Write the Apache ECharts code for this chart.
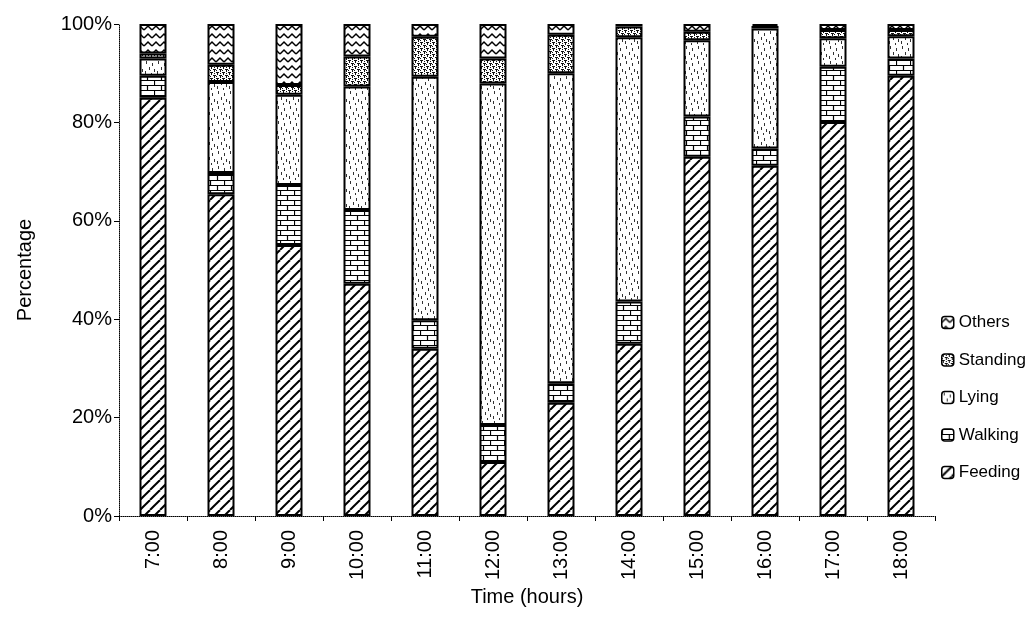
<!DOCTYPE html>
<html>
<head>
<meta charset="utf-8">
<script src="https://cdn.jsdelivr.net/npm/echarts@6/dist/echarts.min.js"></script>
<style>
  html, body { margin: 0; padding: 0; background: #fff; }
  #chart { width: 1032px; height: 635px; }
</style>
</head>
<body>
<div id="chart"></div>
<script>
// Activity budget by hour (percent of observations)
const categories = ['7:00', '8:00', '9:00', '10:00', '11:00', '12:00', '13:00', '14:00', '15:00', '16:00', '17:00', '18:00'];
const feeding  = [85, 65.4, 55.1, 47.2, 34, 11, 23, 35, 73, 71.2, 80.1, 89.5];
const walking  = [4.5, 4.3, 12.2, 15, 5.8, 7.5, 4, 8.6, 8.2, 3.5, 11.2, 3.5];
const lying    = [3.5, 18.5, 18.3, 25.1, 49.5, 69.4, 63, 53.7, 15.5, 24.4, 5.8, 4.5];
const standing = [1, 3.5, 2, 6.1, 8.1, 5.1, 7.8, 2.2, 1.7, 0.5, 1.7, 1.3];
const others   = [6, 8.3, 12.4, 6.6, 2.6, 7, 2.2, 0.5, 1.6, 0.4, 1.2, 1.2];
const yTicks = [0, 20, 40, 60, 80, 100];

// Black-and-white fill tiles for each activity
function tile(w, h, draw) {
  const c = document.createElement('canvas');
  c.width = w; c.height = h;
  const g = c.getContext('2d');
  g.fillStyle = '#fff';
  g.fillRect(0, 0, w, h);
  g.strokeStyle = '#000';
  g.fillStyle = '#000';
  draw(g, w, h);
  return { image: c, repeat: 'repeat' };
}

const hatch = tile(10, 10, (g, w, h) => {
  g.lineWidth = 2;
  for (const k of [-w, 0, w]) {
    g.beginPath();
    g.moveTo(k, h);
    g.lineTo(k + w, 0);
    g.stroke();
  }
});

const brick = tile(14, 10, (g) => {
  g.lineWidth = 1.2;
  g.beginPath();
  g.moveTo(0, 0.5); g.lineTo(14, 0.5);
  g.moveTo(0, 5.5); g.lineTo(14, 5.5);
  g.moveTo(0.5, 0); g.lineTo(0.5, 5.5);
  g.moveTo(7.5, 5.5); g.lineTo(7.5, 10);
  g.stroke();
});

const dashes = tile(12, 15, (g) => {
  g.fillStyle = '#333';
  const pts = [[2, 1], [8, 3], [5, 7], [10, 9], [1, 11], [7, 13]];
  pts.forEach(([x, y]) => g.fillRect(x, y, 1, 3));
});

const dense = tile(6, 6, (g) => {
  g.fillStyle = '#111';
  g.fillRect(0, 0, 3, 1);
  g.fillRect(1, 0, 1, 3);
  g.fillRect(3, 3, 3, 1);
  g.fillRect(4, 3, 1, 3);
  g.fillRect(0, 4, 1, 1);
  g.fillRect(4, 1, 1, 1);
});

const zigzag = tile(8, 8, (g) => {
  g.lineWidth = 1.5;
  g.beginPath();
  g.moveTo(0, 6); g.lineTo(4, 2); g.lineTo(8, 6);
  g.stroke();
});

const font = 'Liberation Sans, Arial, sans-serif';

function barSeries(name, data, fill) {
  return {
    name: name,
    type: 'bar',
    stack: 'total',
    barWidth: 27,
    data: data,
    itemStyle: { color: fill, borderColor: '#000', borderWidth: 2 },
    emphasis: { disabled: true }
  };
}

const chart = echarts.init(document.getElementById('chart'), null, { renderer: 'canvas' });
chart.setOption({
  animation: false,
  backgroundColor: '#fff',
  grid: { left: 119, top: 24, width: 816, height: 492 },
  legend: {
    orient: 'vertical',
    left: 936,
    top: 309,
    itemWidth: 12,
    itemHeight: 12,
    itemGap: 20.5,
    data: ['Others', 'Standing', 'Lying', 'Walking', 'Feeding'],
    textStyle: { fontFamily: font, fontSize: 17, color: '#000' },
    itemStyle: { borderColor: '#000', borderWidth: 1.5 }
  },
  xAxis: {
    type: 'category',
    data: categories,
    name: 'Time (hours)',
    nameLocation: 'middle',
    nameGap: 68,
    nameTextStyle: { fontFamily: font, fontSize: 20, color: '#000' },
    axisLine: { lineStyle: { color: '#000', width: 1, type: 'dotted' } },
    axisTick: { show: true, length: 5, lineStyle: { color: '#000' } },
    axisLabel: { rotate: 90, margin: 14, fontFamily: font, fontSize: 20, color: '#000' }
  },
  yAxis: {
    type: 'value',
    min: yTicks[0],
    max: yTicks[yTicks.length - 1],
    interval: yTicks[1] - yTicks[0],
    name: 'Percentage',
    nameLocation: 'middle',
    nameGap: 84,
    nameTextStyle: { fontFamily: font, fontSize: 20, color: '#000' },
    splitLine: { show: false },
    axisLine: { show: true, lineStyle: { color: '#000', width: 1, type: 'dotted' } },
    axisTick: { show: true, length: 5, lineStyle: { color: '#000' } },
    axisLabel: { margin: 7, fontFamily: font, fontSize: 20, color: '#000', formatter: '{value}%' }
  },
  series: [
    barSeries('Feeding', feeding, hatch),
    barSeries('Walking', walking, brick),
    barSeries('Lying', lying, dashes),
    barSeries('Standing', standing, dense),
    barSeries('Others', others, zigzag)
  ]
});
</script>
</body>
</html>
